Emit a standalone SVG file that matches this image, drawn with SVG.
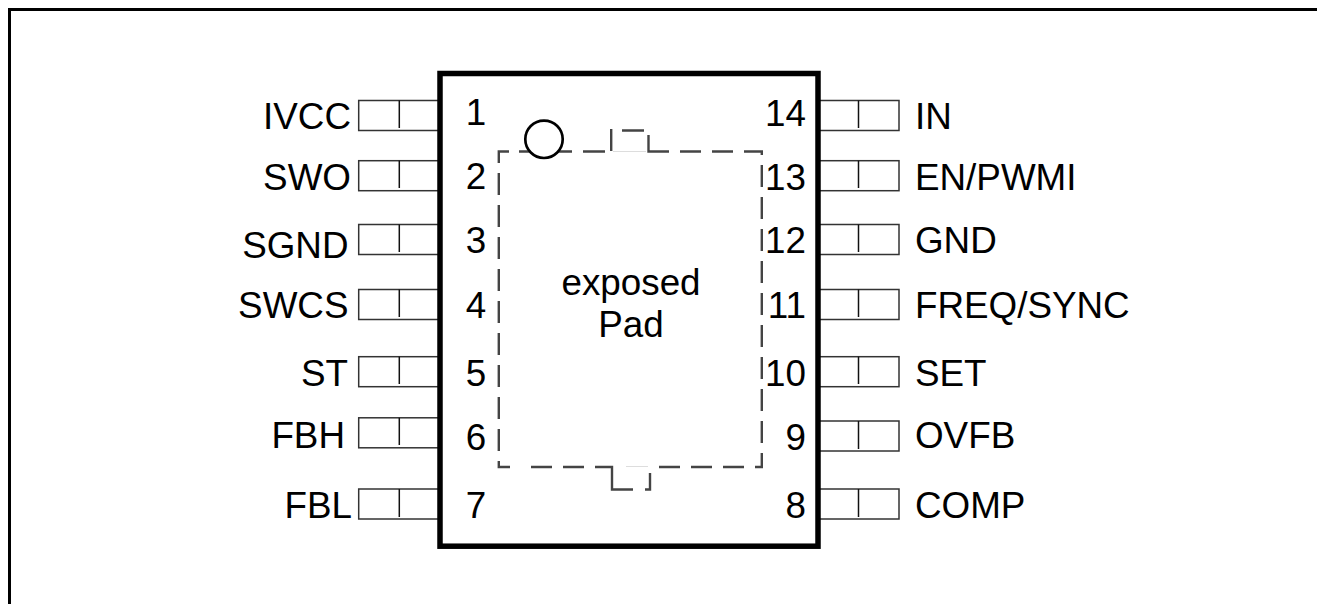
<svg xmlns="http://www.w3.org/2000/svg" width="1317" height="604" viewBox="0 0 1317 604">
<style>
text{font-family:"Liberation Sans",Arial,sans-serif;font-size:36.8px;fill:#000}
.e{text-anchor:end}.m{text-anchor:middle}
.pin{fill:#fff;stroke:#333;stroke-width:1.5}
.div{fill:none;stroke:#111;stroke-width:1.5}
.pad{fill:none;stroke:#444;stroke-width:2.400}
</style>
<rect width="1317" height="604" fill="#fff"/>
<path d="M9.500 604V9.500H1317" fill="none" stroke="#000" stroke-width="3"/>
<g id="connectors">
<path class="pad" d="M509 151.500H498.800V163M498.800 173V195M498.800 205V227M498.800 237V259M498.800 269V291M498.800 301V323M498.800 333V355M498.800 365V387M498.800 397V419M498.800 429V451M498.800 461V467H510M531 467H552M563 467H584M595 467H612V489.500H633M645 489.500H650V473M659 467H680M691 467H712M723 467H744M755 467H761.800V453M761.800 443V421M761.800 411V389M761.800 379V357M761.800 347V325M761.800 315V293M761.800 283V261M761.800 251V229M761.800 219V197M761.800 187V165M761.800 155V151.500H744M733 151.500H712M701 151.500H680M669 151.500H648.500V135M644 130.500H622M611.200 129V151M605 151.500H583M572 151.500H519"/>
<path d="M613 151.500H646M626 466.500H648" fill="none" stroke="#ddd" stroke-width="1"/>
</g>
<g id="pins-left">
<g id="pin1"><rect class="pin" x="358.700" y="100.500" width="80" height="30"/><path class="div" d="M399.300 100.500V128"/><text class="e" x="351" y="129">IVCC</text><text class="m" x="476" y="125">1</text></g>
<g id="pin2"><rect class="pin" x="358.700" y="160.700" width="80" height="30"/><path class="div" d="M399.300 160.700V188"/><text class="e" x="351" y="189.500">SWO</text><text class="m" x="476" y="189">2</text></g>
<g id="pin3"><rect class="pin" x="358.700" y="224.500" width="80" height="30"/><path class="div" d="M399.300 224.500V252"/><text class="e" x="348.500" y="257.500">SGND</text><text class="m" x="476" y="253">3</text></g>
<g id="pin4"><rect class="pin" x="358.700" y="289.500" width="80" height="30"/><path class="div" d="M399.300 289.500V317"/><text class="e" x="348.500" y="317.500">SWCS</text><text class="m" x="476" y="317.500">4</text></g>
<g id="pin5"><rect class="pin" x="358.700" y="356.700" width="80" height="30"/><path class="div" d="M399.300 356.700V384"/><text class="e" x="348" y="385.500">ST</text><text class="m" x="476" y="385.500">5</text></g>
<g id="pin6"><rect class="pin" x="358.700" y="417.800" width="80" height="30"/><path class="div" d="M399.300 417.800V445"/><text class="e" x="345" y="448">FBH</text><text class="m" x="476" y="450">6</text></g>
<g id="pin7"><rect class="pin" x="358.700" y="489" width="80" height="30"/><path class="div" d="M399.300 489V517"/><text class="e" x="352" y="518">FBL</text><text class="m" x="476" y="518">7</text></g>
</g>
<g id="pins-right">
<g id="pin14"><rect class="pin" x="819" y="100.500" width="80" height="30"/><path class="div" d="M858.500 100.500V128"/><text x="915" y="129">IN</text><text class="e" x="806" y="126">14</text></g>
<g id="pin13"><rect class="pin" x="819" y="160.700" width="80" height="30"/><path class="div" d="M858.500 160.700V188"/><text x="915" y="190">EN/PWMI</text><text class="e" x="806" y="190">13</text></g>
<g id="pin12"><rect class="pin" x="819" y="224.500" width="80" height="30"/><path class="div" d="M858.500 224.500V252"/><text x="915" y="253">GND</text><text class="e" x="806" y="253">12</text></g>
<g id="pin11"><rect class="pin" x="819" y="289.500" width="80" height="30"/><path class="div" d="M858.500 289.500V317"/><text x="915" y="317.500">FREQ/SYNC</text><text class="e" x="806" y="317.500">11</text></g>
<g id="pin10"><rect class="pin" x="819" y="356.700" width="80" height="30"/><path class="div" d="M858.500 356.700V384"/><text x="915" y="385.500">SET</text><text class="e" x="806" y="385.500">10</text></g>
<g id="pin9"><rect class="pin" x="819" y="421" width="80" height="30"/><path class="div" d="M858.500 421V449"/><text x="915" y="448">OVFB</text><text class="e" x="806" y="450">9</text></g>
<g id="pin8"><rect class="pin" x="819" y="489" width="80" height="30"/><path class="div" d="M858.500 489V517"/><text x="915" y="518">COMP</text><text class="e" x="806" y="518">8</text></g>
</g>
<g id="body"><rect x="440" y="73.500" width="378" height="472.700" fill="none" stroke="#000" stroke-width="5.500"/></g>
<g id="marker"><circle cx="544" cy="139.300" r="18.700" fill="#fff" stroke="#000" stroke-width="2.700"/></g>
<g id="exposed-pad"><text class="m" x="631" y="295">exposed</text><text class="m" x="631" y="337">Pad</text></g>
</svg>
